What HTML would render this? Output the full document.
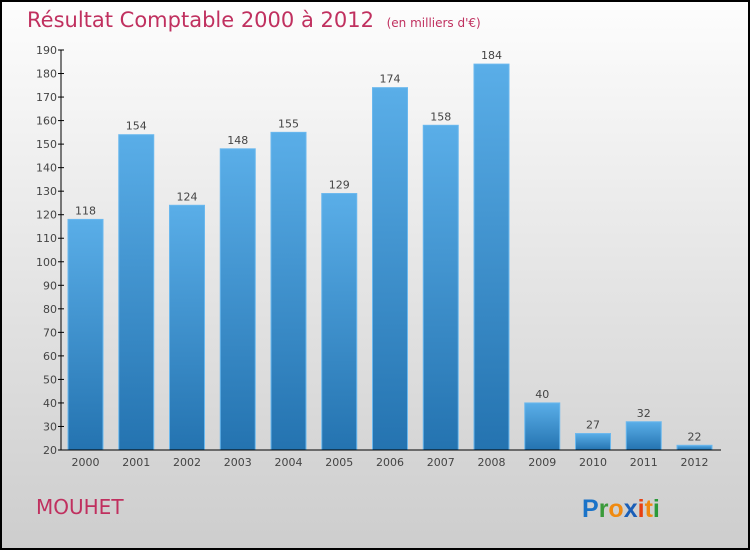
<!DOCTYPE html>
<html><head><meta charset="utf-8"><style>
body{margin:0}
#c{width:750px;height:550px;position:relative;font-family:"DejaVu Sans","Liberation Sans",sans-serif}
</style></head><body>
<div id="c">
<svg id="s" width="750" height="550" xmlns="http://www.w3.org/2000/svg">
<defs>
<linearGradient id="bg" x1="0" y1="0" x2="0" y2="1"><stop offset="0" stop-color="#fdfdfd"/><stop offset="1" stop-color="#cdcdcd"/></linearGradient>
<linearGradient id="bar" x1="0" y1="0" x2="0" y2="1"><stop offset="0" stop-color="#5aaee8"/><stop offset="1" stop-color="#2473b0"/></linearGradient>
</defs>
<rect x="1" y="1" width="748" height="548" fill="url(#bg)" stroke="#000" stroke-width="2"/>
<text x="27" y="27" font-size="21" fill="#c0305f">Résultat Comptable 2000 à 2012 <tspan font-size="12" dx="6">(en milliers d'€)</tspan></text>
<text x="36" y="514" font-size="20" fill="#c0305f">MOUHET</text>
<g font-size="25" font-weight="bold" font-family="'Liberation Sans',sans-serif">
<text x="582" y="517"><tspan fill="#1a73c8">P</tspan><tspan fill="#3a9a3a">r</tspan><tspan fill="#f08a10">o</tspan><tspan fill="#1a5fb8">x</tspan><tspan fill="#e84010">i</tspan><tspan fill="#f08a10">t</tspan><tspan fill="#2a9a3a">i</tspan></text>
</g>
<g id="plot"></g>
</svg>
</div>
<script>
const categories=["2000","2001","2002","2003","2004","2005","2006","2007","2008","2009","2010","2011","2012"];
const values=[118,154,124,148,155,129,174,158,184,40,27,32,22];
const yTicks=[20,30,40,50,60,70,80,90,100,110,120,130,140,150,160,170,180,190];
const yMin=20,yMax=190,yTop=50,yBot=450,x0=60,band=50.75,bw=35;
const NS="http://www.w3.org/2000/svg";
const g=document.getElementById('plot');
function y(v){return yBot-(v-yMin)/(yMax-yMin)*(yBot-yTop);}
function x(i){return x0+i*band+8;}
function mk(t,a){const e=document.createElementNS(NS,t);for(const k in a)e.setAttribute(k,a[k]);g.appendChild(e);return e;}
values.forEach((v,i)=>{
 const r=mk('rect',{x:x(i),y:y(v),width:bw,height:yBot-y(v),fill:'url(#bar)',stroke:'#6ab8ee','stroke-width':1});
 
 
 const t=mk('text',{x:x(i)+bw/2,y:y(v)-5,'text-anchor':'middle','font-size':11,fill:'#444'});
 t.textContent=v;
 
 
 const c=mk('text',{x:x(i)+bw/2,y:466,'text-anchor':'middle','font-size':11,fill:'#444'});
 c.textContent=categories[i];
 
 
});
yTicks.forEach(v=>{
 const l=mk('line',{x1:58,x2:64,y1:y(v),y2:y(v),stroke:'#000'});
 
 
 const t=mk('text',{x:57,y:y(v)+4,'text-anchor':'end','font-size':11,fill:'#444'});
 t.textContent=v;
 
 
});
const ya=mk('line',{x1:61,x2:61,y1:yTop,y2:yBot,stroke:'#000'});


const xa=mk('line',{x1:61,x2:721,y1:yBot,y2:yBot,stroke:'#000'});


</script>
</body></html>
